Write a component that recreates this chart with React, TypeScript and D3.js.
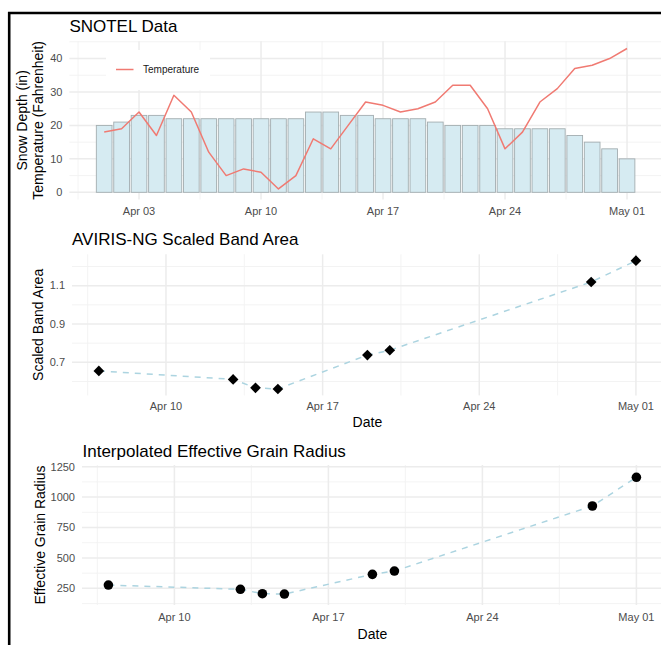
import React from 'react';
import * as d3 from 'd3';

// SNOTEL daily record, Apr 01 – May 01
const snotelDates = [
  '2023-04-01', '2023-04-02', '2023-04-03', '2023-04-04', '2023-04-05', '2023-04-06', '2023-04-07',
  '2023-04-08', '2023-04-09', '2023-04-10', '2023-04-11', '2023-04-12', '2023-04-13', '2023-04-14',
  '2023-04-15', '2023-04-16', '2023-04-17', '2023-04-18', '2023-04-19', '2023-04-20', '2023-04-21',
  '2023-04-22', '2023-04-23', '2023-04-24', '2023-04-25', '2023-04-26', '2023-04-27', '2023-04-28',
  '2023-04-29', '2023-04-30', '2023-05-01',
];
const snowDepth = [20, 21, 23, 23, 22, 22, 22, 22, 22, 22, 22, 22, 24, 24, 23, 23, 22, 22, 22, 21, 20, 20, 20, 19, 19, 19, 19, 17, 15, 13, 10];
const temperature = [18, 19, 24, 17, 29, 24, 12, 5, 7, 6, 1, 5, 16, 13, 20, 27, 26, 24, 25, 27, 32, 32, 25, 13, 18, 27, 31, 37, 38, 40, 43];

// AVIRIS-NG flight dates and derived quantities
const avirisDates = ['2023-04-07', '2023-04-13', '2023-04-14', '2023-04-15', '2023-04-19', '2023-04-20', '2023-04-29', '2023-05-01'];
const bandArea = [0.655, 0.611, 0.567, 0.561, 0.738, 0.763, 1.119, 1.23];
const grainRadius = [277, 242, 206, 203, 365, 392, 927, 1163];

// Axis breaks
const snotelDateTicks = ['2023-04-03', '2023-04-10', '2023-04-17', '2023-04-24', '2023-05-01'];
const avirisDateTicks = ['2023-04-10', '2023-04-17', '2023-04-24', '2023-05-01'];
const snotelValueTicks = [0, 10, 20, 30, 40];
const bandAreaTicks = [0.7, 0.9, 1.1];
const grainRadiusTicks = [250, 500, 750, 1000, 1250];
const grainRadiusLimits = [113, 1264];

const parse = d3.utcParse('%Y-%m-%d');
const fmt = d3.utcFormat('%b %d');
const DAY = 864e5;
const FONT = '"Liberation Sans", Arial, Helvetica, sans-serif';
const GRID_MAJOR = '#ececec';
const GRID_MINOR = '#f2f2f2';
const TICK_TEXT = '#4d4d4d';

const expand = (lo: number, hi: number, k = 0.05): [number, number] => {
  const pad = (hi - lo) * k;
  return [lo - pad, hi + pad];
};

// minor breaks halfway between majors, extended one step past each end
const minorBreaks = (majors: number[], domain: [number, number]) => {
  const step = majors[1] - majors[0];
  const out: number[] = [];
  for (let v = majors[0] - step / 2; v <= domain[1]; v += step) {
    if (v >= domain[0]) out.push(v);
  }
  return out;
};

type Box = { left: number; right: number; top: number; bottom: number };

function Grid({ box, xs, ys, xMajor, xMinor, yMajor, yMinor }: {
  box: Box; xs: (v: number) => number; ys: (v: number) => number;
  xMajor: number[]; xMinor: number[]; yMajor: number[]; yMinor: number[];
}) {
  return (
    <g>
      {yMinor.map((v, i) => (
        <line key={'ym' + i} x1={box.left} x2={box.right} y1={ys(v)} y2={ys(v)} stroke={GRID_MINOR} strokeWidth={0.9} />
      ))}
      {xMinor.map((v, i) => (
        <line key={'xm' + i} x1={xs(v)} x2={xs(v)} y1={box.top} y2={box.bottom} stroke={GRID_MINOR} strokeWidth={0.9} />
      ))}
      {yMajor.map((v, i) => (
        <line key={'yM' + i} x1={box.left} x2={box.right} y1={ys(v)} y2={ys(v)} stroke={GRID_MAJOR} strokeWidth={1.5} />
      ))}
      {xMajor.map((v, i) => (
        <line key={'xM' + i} x1={xs(v)} x2={xs(v)} y1={box.top} y2={box.bottom} stroke={GRID_MAJOR} strokeWidth={1.5} />
      ))}
    </g>
  );
}

function YTicks({ box, ys, ticks, format }: { box: Box; ys: (v: number) => number; ticks: number[]; format: (v: number) => string }) {
  return (
    <g fontFamily={FONT} fontSize={11} fill={TICK_TEXT} textAnchor="end">
      {ticks.map((v, i) => (
        <text key={i} x={box.left - 7} y={ys(v)} dy="0.35em">{format(v)}</text>
      ))}
    </g>
  );
}

function XTicks({ xs, ticks, baseline }: { xs: (v: number) => number; ticks: Date[]; baseline: number }) {
  return (
    <g fontFamily={FONT} fontSize={11} fill={TICK_TEXT} textAnchor="middle">
      {ticks.map((d, i) => (
        <text key={i} x={xs(+d)} y={baseline}>{fmt(d)}</text>
      ))}
    </g>
  );
}

export default function App() {
  // ---------- SNOTEL panel ----------
  const sDates = snotelDates.map((s) => parse(s)!);
  const sBox: Box = { left: 69.4, right: 661.8, top: 41.3, bottom: 199.5 };
  const sXDomain = expand(+sDates[0] - 0.45 * DAY, +sDates[sDates.length - 1] + 0.45 * DAY);
  const sx = d3.scaleLinear().domain(sXDomain).range([sBox.left, sBox.right]);
  const sYDomain = expand(0, d3.max([...snowDepth, ...temperature])!);
  const sy = d3.scaleLinear().domain(sYDomain).range([sBox.bottom, sBox.top]);
  const sXMajor = snotelDateTicks.map((s) => +parse(s)!);
  const sXMinor = minorBreaks(sXMajor, sXDomain as [number, number]);
  const sYMinor = minorBreaks(snotelValueTicks, sYDomain);
  const barW = 0.9 * DAY;
  const tempLine = d3.line<number>()
    .x((_, i) => sx(+sDates[i]))
    .y((v) => sy(v));

  // ---------- AVIRIS panels ----------
  const aDates = avirisDates.map((s) => parse(s)!);
  const aXDomain = expand(+aDates[0], +aDates[aDates.length - 1]);
  const aXMajor = avirisDateTicks.map((s) => +parse(s)!);
  const aXMinor = minorBreaks(aXMajor, aXDomain);

  const bBox: Box = { left: 72, right: 662.8, top: 254.3, bottom: 395.4 };
  const bx = d3.scaleLinear().domain(aXDomain).range([bBox.left, bBox.right]);
  const bYDomain = expand(d3.min(bandArea)!, d3.max(bandArea)!);
  const by = d3.scaleLinear().domain(bYDomain).range([bBox.bottom, bBox.top]);
  const bYMinor = minorBreaks(bandAreaTicks, bYDomain);
  const bandLine = d3.line<number>().x((_, i) => bx(+aDates[i])).y((v) => by(v));
  const diamond = d3.symbol(d3.symbolSquare, 57)();

  const gBox: Box = { left: 82, right: 662.8, top: 465, bottom: 605 };
  const gx = d3.scaleLinear().domain(aXDomain).range([gBox.left, gBox.right]);
  const gy = d3.scaleLinear().domain(grainRadiusLimits).range([gBox.bottom, gBox.top]);
  const gYMinor = minorBreaks(grainRadiusTicks, grainRadiusLimits as [number, number]);
  const grainLine = d3.line<number>().x((_, i) => gx(+aDates[i])).y((v) => gy(v));

  const sXTickDates = snotelDateTicks.map((s) => parse(s)!);
  const aXTickDates = avirisDateTicks.map((s) => parse(s)!);

  return (
    <div style={{ position: 'absolute', left: 0, top: 0 }}>
      <svg width={661} height={645} style={{ display: 'block', background: '#fff' }}>
        <rect x={0} y={0} width={661} height={645} fill="#fff" />

        {/* ===== SNOTEL Data ===== */}
        <Grid box={sBox} xs={sx} ys={sy} xMajor={sXMajor} xMinor={sXMinor} yMajor={snotelValueTicks} yMinor={sYMinor} />
        <g>
          {snowDepth.map((v, i) => (
            <rect
              key={i}
              x={sx(+sDates[i] - barW / 2)}
              y={sy(v)}
              width={sx(+sDates[i] + barW / 2) - sx(+sDates[i] - barW / 2)}
              height={sy(0) - sy(v)}
              fill="#d6ebf2"
              stroke="#a3adb0"
              strokeWidth={0.9}
            />
          ))}
        </g>
        <path d={tempLine(temperature)!} fill="none" stroke="#f07a72" strokeWidth={1.5} strokeLinejoin="round" />
        {/* legend */}
        <rect x={106} y={50} width={104} height={40} fill="#fff" />
        <line x1={116} x2={133.5} y1={69.5} y2={69.5} stroke="#f07a72" strokeWidth={1.5} />
        <text x={143} y={69.5} dy="0.35em" fontFamily={FONT} fontSize={10} fill="#1a1a1a">Temperature</text>

        <YTicks box={sBox} ys={sy} ticks={snotelValueTicks} format={(v) => String(v)} />
        <XTicks xs={sx} ticks={sXTickDates} baseline={214.5} />
        <text x={69.4} y={32.4} fontFamily={FONT} fontSize={17} fill="#000">SNOTEL Data</text>
        <g fontFamily={FONT} fontSize={14} fill="#000" textAnchor="middle">
          <text transform={`translate(27,${(sBox.top + sBox.bottom) / 2}) rotate(-90)`}>Snow Depth (in)</text>
          <text transform={`translate(43,${(sBox.top + sBox.bottom) / 2}) rotate(-90)`}>Temperature (Fahrenheit)</text>
        </g>

        {/* ===== AVIRIS-NG Scaled Band Area ===== */}
        <Grid box={bBox} xs={bx} ys={by} xMajor={aXMajor} xMinor={aXMinor} yMajor={bandAreaTicks} yMinor={bYMinor} />
        <path d={bandLine(bandArea)!} fill="none" stroke="#acd4e0" strokeWidth={1.5} strokeDasharray="6 6" />
        {bandArea.map((v, i) => (
          <path key={i} d={diamond!} transform={`translate(${bx(+aDates[i])},${by(v)}) rotate(45)`} fill="#000" />
        ))}
        <YTicks box={bBox} ys={by} ticks={bandAreaTicks} format={d3.format('.1f')} />
        <XTicks xs={bx} ticks={aXTickDates} baseline={409.6} />
        <text x={72} y={245} fontFamily={FONT} fontSize={17} fill="#000">AVIRIS-NG Scaled Band Area</text>
        <text x={(bBox.left + bBox.right) / 2} y={426.7} textAnchor="middle" fontFamily={FONT} fontSize={14} fill="#000">Date</text>
        <text transform={`translate(43.3,${(bBox.top + bBox.bottom) / 2}) rotate(-90)`} textAnchor="middle" fontFamily={FONT} fontSize={14} fill="#000">Scaled Band Area</text>

        {/* ===== Interpolated Effective Grain Radius ===== */}
        <Grid box={gBox} xs={gx} ys={gy} xMajor={aXMajor} xMinor={aXMinor} yMajor={grainRadiusTicks} yMinor={gYMinor} />
        <path d={grainLine(grainRadius)!} fill="none" stroke="#acd4e0" strokeWidth={1.5} strokeDasharray="6 6" />
        {grainRadius.map((v, i) => (
          <circle key={i} cx={gx(+aDates[i])} cy={gy(v)} r={4.8} fill="#000" />
        ))}
        <YTicks box={gBox} ys={gy} ticks={grainRadiusTicks} format={(v) => String(v)} />
        <XTicks xs={gx} ticks={aXTickDates} baseline={621.3} />
        <text x={82.5} y={457} fontFamily={FONT} fontSize={17} fill="#000">Interpolated Effective Grain Radius</text>
        <text x={(gBox.left + gBox.right) / 2} y={638.5} textAnchor="middle" fontFamily={FONT} fontSize={14} fill="#000">Date</text>
        <text transform={`translate(45,${(gBox.top + gBox.bottom) / 2}) rotate(-90)`} textAnchor="middle" fontFamily={FONT} fontSize={14} fill="#000">Effective Grain Radius</text>

        {/* frame */}
        <path d="M9.2,645 V13 H661" fill="none" stroke="#000" strokeWidth={2.6} />
      </svg>
    </div>
  );
}
